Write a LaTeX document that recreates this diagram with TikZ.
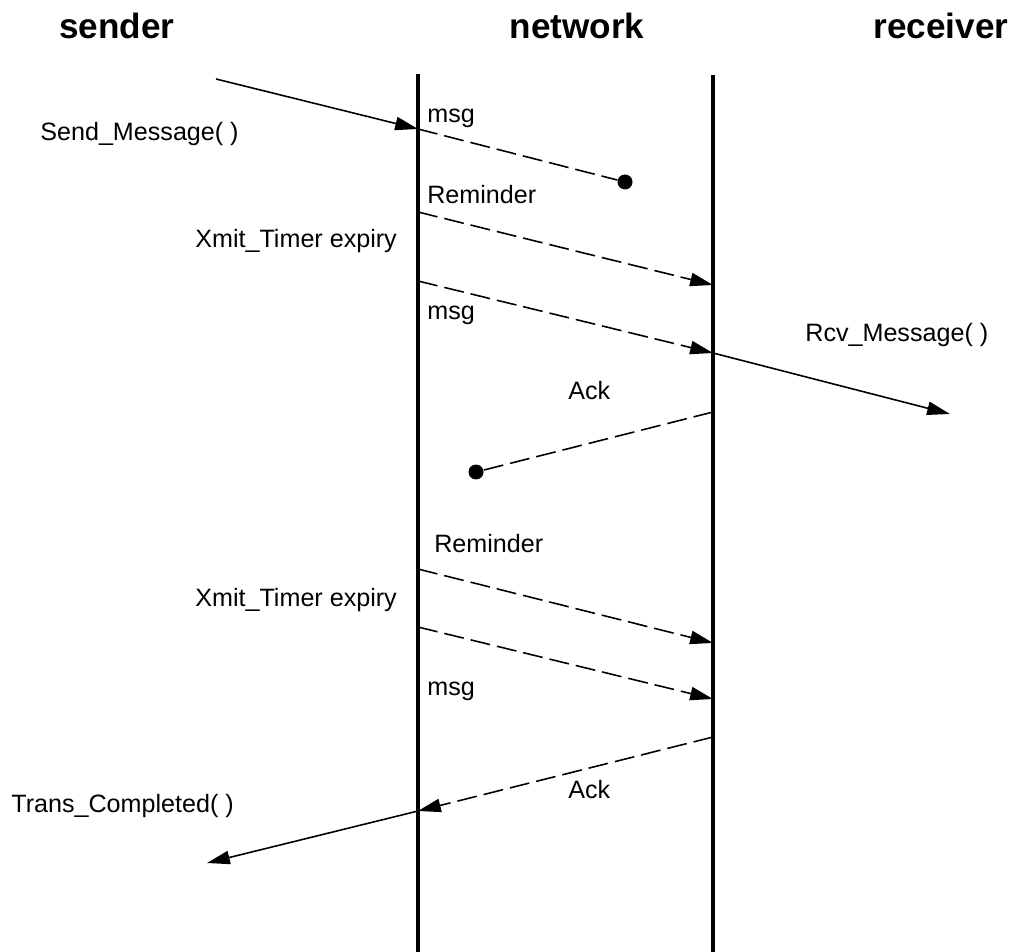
\documentclass[tikz,border=0pt]{standalone}
\usepackage{fontspec}
\setmainfont{Liberation Sans}
\usetikzlibrary{arrows.meta}

\begin{document}
\begin{tikzpicture}[x=0.02cm,y=-0.02cm] %% one unit = one pixel, y downwards
		\tikzstyle{lane}=[line width=1.8pt]
		\tikzstyle{call}=[line width=0.9pt,-{Triangle[length=13pt,width=7.6pt]}]
		\tikzstyle{pkt}=[call,dash pattern=on 11.4pt off 4pt]
		\tikzstyle{lost}=[line width=0.9pt,dash pattern=on 11.4pt off 4pt]
		\tikzstyle{drop}=[circle,fill=black,inner sep=0pt,minimum size=0.3cm]
		\tikzstyle{head}=[anchor=base,inner sep=0pt,font=\fontsize{20}{24}\selectfont\bfseries]
		\tikzstyle{txt}=[anchor=base west,inner sep=0pt,font=\fontsize{14.3}{17}\selectfont]
		\useasboundingbox (0,0) rectangle (1014,952);
		%% headings
		\node[head] (sender)   at (117,39) {sender};
		\node[head] (network)  at (577,39) {network};
		\node[head] (receiver) at (941,39) {receiver};
		%% lifelines
		\coordinate (ltop) at (418,74);  \coordinate (lbot) at (418,952);
		\coordinate (rtop) at (713,75);  \coordinate (rbot) at (713,952);
		\draw[lane] (ltop) -- (lbot);
		\draw[lane] (rtop) -- (rbot);
		%% events on the lines
		\coordinate (s0)  at (216,79);
		\coordinate (l1)  at (418,129);
		\coordinate (l2)  at (418,212);  \coordinate (r2) at (713,285);
		\coordinate (l3)  at (418,281);  \coordinate (r3) at (713,353);
		\coordinate (rc)  at (950,414);
		\coordinate (r4)  at (713,412);
		\coordinate (l5)  at (418,569);  \coordinate (r5) at (713,643);
		\coordinate (l6)  at (418,627);  \coordinate (r6) at (713,699);
		\coordinate (r7)  at (713,737);  \coordinate (l7) at (418,811);
		\coordinate (tc)  at (207,863);
		%% lost packets
		\node[drop] (d1) at (625,182) {};
		\node[drop] (d2) at (476,472) {};
		%% first try
		\draw[call] (s0) -- (l1);
		\draw[lost] (l1) -- (d1);
		\draw[pkt] (l2) -- (r2);
		\draw[pkt] (l3) -- (r3);
		\draw[call] (r3) -- (rc);
		\draw[lost] (r4) -- (d2);
		%% second try
		\draw[pkt] (l5) -- (r5);
		\draw[pkt] (l6) -- (r6);
		\draw[pkt] (r7) -- (l7);
		\draw[call] (l7) -- (tc);
		%% labels
		\node[txt] (msgA)  at (427,123) {msg};
		\node[txt] (send)  at (40,141)  {Send\_Message( )};
		\node[txt] (remA)  at (427,204) {Reminder};
		\node[txt] (xmtA)  at (195,248) {Xmit\_Timer expiry};
		\node[txt] (msgB)  at (427,320) {msg};
		\node[txt] (rcv)   at (805,342) {Rcv\_Message( )};
		\node[txt] (ackA)  at (568,400) {Ack};
		\node[txt] (remB)  at (434,552) {Reminder};
		\node[txt] (xmtB)  at (195,606) {Xmit\_Timer expiry};
		\node[txt] (msgC)  at (427,695) {msg};
		\node[txt] (ackB)  at (568,798) {Ack};
		\node[txt] (trans) at (11,812)  {Trans\_Completed( )};
	\end{tikzpicture}
\end{document}
